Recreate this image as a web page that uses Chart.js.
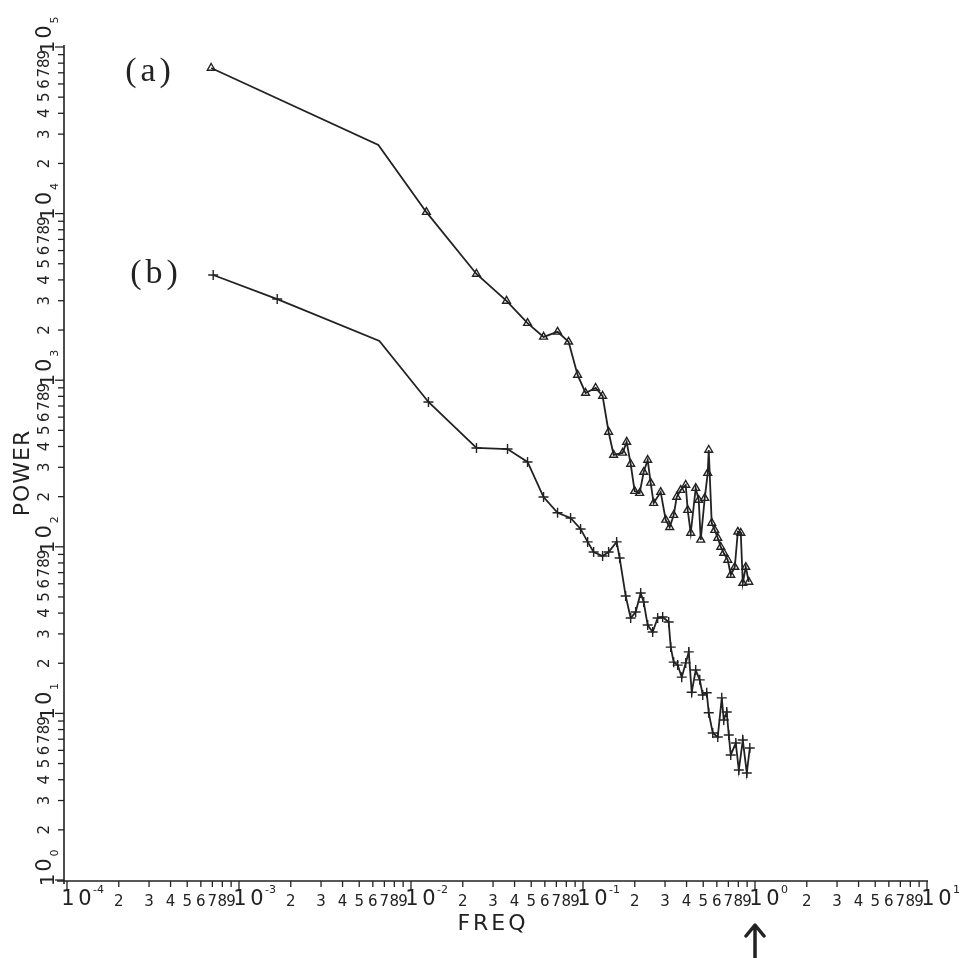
<!DOCTYPE html>
<html>
<head>
<meta charset="utf-8">
<script src="https://cdn.jsdelivr.net/npm/chart.js@4.4.0/dist/chart.umd.min.js"></script>
<style>
  html, body { margin: 0; padding: 0; background: #fff; }
  #wrap { width: 964px; height: 958px; }
</style>
</head>
<body>
<div id="wrap"><canvas id="spec" width="964" height="958"></canvas></div>
<script>
// spectrum (a) - triangles
const freqA = [6.89e-4, 6.46e-3, 0.01229, 0.02403, 0.03592, 0.04759, 0.05897, 0.07114, 0.08245, 0.09302,
  0.1035, 0.1184, 0.1300, 0.1409, 0.1507, 0.1700, 0.1794, 0.1893, 0.1997, 0.2135,
  0.2253, 0.2377, 0.2474, 0.2575, 0.2829, 0.3026, 0.3192, 0.3368, 0.3506, 0.3699,
  0.3956, 0.4063, 0.4230, 0.4522, 0.4708, 0.4836, 0.5102, 0.5311, 0.5383, 0.5603,
  0.5834, 0.6073, 0.6322, 0.6582, 0.6945, 0.7228, 0.7630, 0.7945, 0.8267, 0.8492,
  0.8839, 0.9203];
const powerA = [74800, 25800, 10200, 4340, 2990, 2200, 1820, 1950, 1700, 1075,
  838, 898, 804, 489, 356, 366, 426, 314, 216, 210,
  281, 332, 242, 183, 213, 145, 131, 155, 199, 219,
  235, 166, 121, 225, 191, 110, 196, 277, 381, 139,
  126, 113, 99.7, 91.8, 83.3, 67.7, 75.6, 123, 121, 60.6,
  75.6, 61.5];

// spectrum (b) - plus marks
const freqB = [7.08e-4, 1.668e-3, 6.55e-3, 0.01263, 0.02403, 0.03640, 0.04759, 0.05897, 0.07114, 0.08469,
  0.09683, 0.1064, 0.1153, 0.1300, 0.1409, 0.1569, 0.1633, 0.1770, 0.1893, 0.2024,
  0.2164, 0.2253, 0.2377, 0.2541, 0.2717, 0.2905, 0.3149, 0.3236, 0.3368, 0.3553,
  0.3749, 0.3956, 0.4119, 0.4286, 0.4522, 0.4772, 0.4967, 0.5240, 0.5383, 0.5680,
  0.6073, 0.6409, 0.6582, 0.6851, 0.7038, 0.7228, 0.7732, 0.8051, 0.8492, 0.8960,
  0.9326];
const powerB = [4280, 3070, 1720, 740, 392, 386, 323, 199, 160, 149,
  128, 107, 93.1, 88.1, 93.1, 107, 85.7, 50.7, 37.4, 40.6,
  52.8, 46.6, 33.9, 30.8, 37.4, 37.9, 35.4, 25.0, 20.3, 19.5,
  16.5, 20.1, 23.4, 13.4, 18.2, 15.9, 12.9, 13.3, 10.1, 7.63,
  7.22, 12.4, 9.13, 10.2, 7.42, 5.63, 6.64, 4.57, 6.92, 4.39,
  6.20];

// axis ticks
const xDecades = [1e-4, 1e-3, 1e-2, 1e-1, 1, 10];
const xExponents = ['-4', '-3', '-2', '-1', '0', '1'];
const yDecades = [1, 10, 100, 1e3, 1e4, 1e5];
const yExponents = ['0', '1', '2', '3', '4', '5'];
const minorDigits = [2, 3, 4, 5, 6, 7, 8, 9];

const ink = '#222';

// old plotter style axes, drawn over the (hidden) chart.js scales
const plotterAxes = {
    id: 'plotterAxes',
    afterDraw(chart) {
        const ctx = chart.ctx;
        const xs = chart.scales.x, ys = chart.scales.y;
        const area = chart.chartArea;
        const axisY = area.bottom + 1, axisX = area.left - 3;
        ctx.save();
        ctx.strokeStyle = ink;
        ctx.fillStyle = ink;
        ctx.lineWidth = 1.6;
        ctx.beginPath();
        ctx.moveTo(axisX - 7, axisY);
        ctx.lineTo(area.right + 1, axisY);
        ctx.moveTo(axisX, axisY + 3);
        ctx.lineTo(axisX, area.top - 2);
        ctx.stroke();

        // x ticks + labels
        ctx.lineWidth = 1.3;
        xDecades.forEach((d, i) => {
            const px = xs.getPixelForValue(d);
            ctx.beginPath();
            ctx.moveTo(px, axisY);
            ctx.lineTo(px, axisY + 9);
            ctx.stroke();
            ctx.textAlign = 'center';
            ctx.textBaseline = 'alphabetic';
            ctx.font = '21px "DejaVu Sans"';
            ctx.fillText('1', px + 1, 905);
            ctx.fillText('0', px + 18, 905);
            ctx.textAlign = 'left';
            ctx.font = '11px "DejaVu Sans"';
            ctx.fillText(xExponents[i], px + 26, 893);
            if (i === xDecades.length - 1) return;
            ctx.textAlign = 'center';
            ctx.font = '15px "DejaVu Sans"';
            minorDigits.forEach(m => {
                const mx = xs.getPixelForValue(m * d);
                ctx.beginPath();
                ctx.moveTo(mx, axisY);
                ctx.lineTo(mx, axisY + 6);
                ctx.stroke();
                ctx.fillText(String(m), mx, 906);
            });
        });

        // y ticks + labels (rotated, read bottom to top)
        const drawUp = (txt, cx, cy, font) => {
            ctx.save();
            ctx.translate(cx, cy);
            ctx.rotate(-Math.PI / 2);
            ctx.font = font;
            ctx.textAlign = 'center';
            ctx.textBaseline = 'middle';
            ctx.fillText(txt, 0, 0);
            ctx.restore();
        };
        yDecades.forEach((d, i) => {
            const py = ys.getPixelForValue(d);
            ctx.beginPath();
            ctx.moveTo(axisX, py);
            ctx.lineTo(axisX - 9, py);
            ctx.stroke();
            drawUp('1', 49, py, '20px "DejaVu Sans"');
            drawUp('0', 46, py - 15, '21px "DejaVu Sans"');
            drawUp(yExponents[i], 55, py - 27, '11px "DejaVu Sans"');
            if (i === yDecades.length - 1) return;
            minorDigits.forEach(m => {
                const my = ys.getPixelForValue(m * d);
                ctx.beginPath();
                ctx.moveTo(axisX, my);
                ctx.lineTo(axisX - 6, my);
                ctx.stroke();
                drawUp(String(m), 45, my, '15px "DejaVu Sans"');
            });
        });

        // axis titles
        ctx.font = '22px "DejaVu Sans"';
        ctx.letterSpacing = '3px';
        ctx.textAlign = 'center';
        ctx.textBaseline = 'alphabetic';
        ctx.fillText('FREQ', 493, 930);
        ctx.letterSpacing = '1px';
        drawUp('POWER', 23, 473, '22px "DejaVu Sans"');

        // curve labels
        ctx.font = '34px "Liberation Serif"';
        ctx.letterSpacing = '4px';
        ctx.textBaseline = 'middle';
        ctx.fillText('(a)', 150, 72);
        ctx.fillText('(b)', 156, 274);
        ctx.letterSpacing = '0px';

        // arrow under f = 1
        const ax = xs.getPixelForValue(1);
        ctx.lineWidth = 3.5;
        ctx.lineCap = 'round';
        ctx.lineJoin = 'round';
        ctx.beginPath();
        ctx.moveTo(ax, 926);
        ctx.lineTo(ax, 958);
        ctx.moveTo(ax - 9, 936);
        ctx.lineTo(ax, 925);
        ctx.lineTo(ax + 9, 936);
        ctx.stroke();
        ctx.restore();
    }
};

const ctx = document.getElementById('spec').getContext('2d');
new Chart(ctx, {
    type: 'line',
    data: {
        datasets: [
            {
                label: '(a)',
                data: freqA.map((f, i) => ({ x: f, y: powerA[i] })),
                borderColor: ink,
                borderWidth: 1.8,
                pointStyle: 'triangle',
                pointRadius: freqA.map((f, i) => i === 1 ? 0 : 4.5),
                pointBorderColor: ink,
                pointBorderWidth: 1.4,
                pointBackgroundColor: 'rgba(255,255,255,0)',
                tension: 0
            },
            {
                label: '(b)',
                data: freqB.map((f, i) => ({ x: f, y: powerB[i] })),
                borderColor: ink,
                borderWidth: 1.8,
                pointStyle: 'cross',
                pointRadius: freqB.map((f, i) => i === 2 ? 0 : 5),
                pointBorderColor: ink,
                pointBorderWidth: 1.4,
                tension: 0
            }
        ]
    },
    options: {
        responsive: false,
        animation: false,
        layout: { padding: { left: 67, right: 37, top: 47, bottom: 78 } },
        plugins: { legend: { display: false }, tooltip: { enabled: false } },
        scales: {
            x: { type: 'logarithmic', min: 1e-4, max: 10, display: false },
            y: { type: 'logarithmic', min: 1, max: 1e5, display: false }
        }
    },
    plugins: [plotterAxes]
});
</script>
</body>
</html>
